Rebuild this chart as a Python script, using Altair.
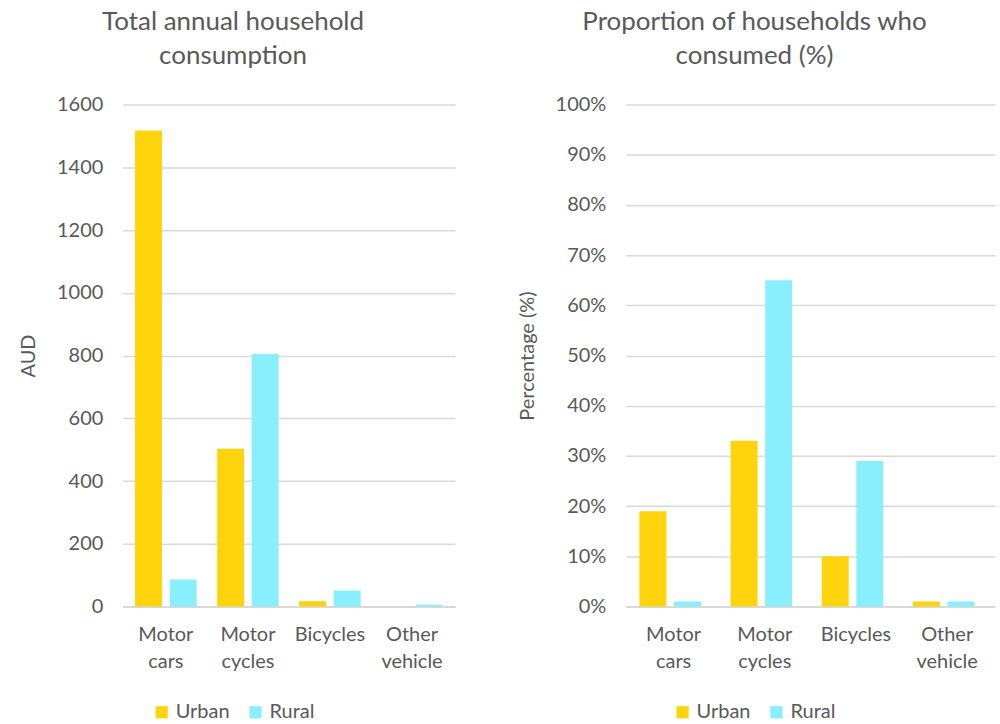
import altair as alt
import pandas as pd

categories = ["Motor cars", "Motor cycles", "Bicycles", "Other vehicle"]
groups = ["Urban", "Rural"]
consumption_urban = [1517, 503, 17, 0]
consumption_rural = [86, 805, 51, 6]
share_urban = [19, 33, 10, 1]
share_rural = [1, 65, 29, 1]

URBAN = "#FFD40D"
RURAL = "#89EFFC"
GREY = "#595959"
FONT = "Lato"

def frame(u, r):
    rows = []
    for c, a, b in zip(categories, u, r):
        rows.append({"category": c, "group": "Urban", "value": a})
        rows.append({"category": c, "group": "Rural", "value": b})
    return pd.DataFrame(rows)

color = alt.Color("group:N", scale=alt.Scale(domain=groups, range=[URBAN, RURAL]),
                  sort=groups, title=None)

def panel(df, title, ytitle, domain, values, label_expr, width, lx):
    return alt.Chart(df, title=alt.TitleParams(title, fontSize=26, font=FONT, color=GREY,
                                               fontWeight="normal", anchor="middle", dx=-56,
                                               offset=26, lineHeight=34)).mark_bar().encode(
        x=alt.X("category:N", sort=categories, title=None,
                scale=alt.Scale(paddingInner=0.25, paddingOuter=0.15),
                axis=alt.Axis(labelExpr="split(datum.value, ' ')", labelAngle=0, labelFontSize=20,
                              labelFont=FONT, labelColor=GREY, ticks=False, domainColor="#D9D9D9",
                              domainWidth=2, labelPadding=18, labelLineHeight=27)),
        xOffset=alt.XOffset("group:N", sort=groups, scale=alt.Scale(paddingInner=0.22)),
        y=alt.Y("value:Q", title=ytitle, scale=alt.Scale(domain=domain, nice=False),
                axis=alt.Axis(values=values, labelExpr=label_expr, labelFontSize=20, labelFont=FONT,
                              labelColor=GREY, ticks=False, domain=False, gridColor="#D9D9D9",
                              gridWidth=1.5, titleFontSize=20, titleFont=FONT, titleColor=GREY,
                              titleFontWeight="normal", labelPadding=20, titlePadding=18)),
        color=color.legend(alt.Legend(orient="none", legendX=lx, legendY=599, direction="horizontal",
                                      labelFontSize=20, labelFont=FONT, labelColor=GREY,
                                      symbolType="square", symbolSize=150, symbolStrokeWidth=0,
                                      columnPadding=16, labelOffset=4)),
    ).properties(width=width, height=503)

left = panel(frame(consumption_urban, consumption_rural),
             ["Total annual household", "consumption"], "AUD", [0, 1600],
             list(range(0, 1601, 200)), "datum.value", 333, 29)
right = panel(frame(share_urban, share_rural),
              ["Proportion of households who", "consumed (%)"], "Percentage (%)", [0, 100],
              list(range(0, 101, 10)), "datum.value + '%'", 370, 47)

chart = alt.hconcat(left, right, spacing=62).resolve_legend(color="independent").configure_view(
    stroke=None).properties(padding={"left": 18, "top": 8, "right": 5, "bottom": 5})

chart.save("out.html", embed_options={"renderer": "svg", "actions": False})
